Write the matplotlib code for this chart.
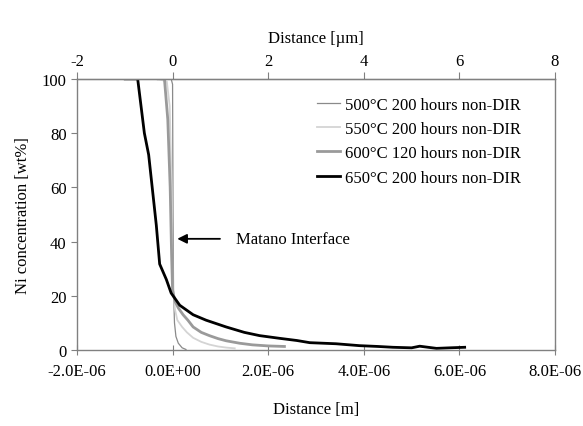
import matplotlib
matplotlib.use("Agg")
import matplotlib.pyplot as plt
from matplotlib.ticker import FuncFormatter

plt.rcParams['font.family'] = ['Liberation Serif', 'DejaVu Serif']
plt.rcParams['axes.unicode_minus'] = False

# distance in micrometres, Ni concentration in wt%
x_500 = [-0.1, -0.03, 0.0, 0.01, 0.02, 0.04, 0.07, 0.12, 0.2, 0.28]
y_500 = [100, 100, 98, 50, 22, 10, 5, 2.5, 0.8, 0.2]

x_550 = [-0.6, -0.3, -0.12, -0.06, -0.02, 0.0, 0.05, 0.1, 0.2, 0.3, 0.43, 0.6, 0.77, 0.95, 1.12, 1.3]
y_550 = [100, 100, 99, 90, 60, 25, 15, 11, 8.5, 6.5, 4.5, 3.0, 2.0, 1.3, 0.9, 0.6]

x_600 = [-0.3, -0.17, -0.1, -0.05, -0.02, 0.0, 0.05, 0.12, 0.22, 0.32, 0.43, 0.6, 0.77, 0.95, 1.12, 1.4, 1.67, 2.0, 2.34]
y_600 = [100, 100, 85, 60, 35, 22, 18, 15.5, 13, 11, 8.5, 6.5, 5.3, 4.2, 3.4, 2.5, 1.9, 1.5, 1.3]

x_650 = [-0.99, -0.73, -0.59, -0.5, -0.34, -0.27, -0.13, -0.03, 0.15, 0.43, 0.7, 1.12,
         1.5, 1.82, 2.24, 2.6, 2.87, 3.42, 3.91, 4.3, 4.61, 5.0, 5.17, 5.52, 5.8, 6.11]
y_650 = [100, 100, 80, 72, 46, 31.7, 26, 21, 16.5, 13, 11, 8.5,
         6.5, 5.3, 4.3, 3.5, 2.7, 2.3, 1.6, 1.3, 1.0, 0.8, 1.4, 0.6, 0.8, 1.0]

labels = ["500°C 200 hours non-DIR", "550°C 200 hours non-DIR",
          "600°C 120 hours non-DIR", "650°C 200 hours non-DIR"]

fig = plt.figure(figsize=(5.83, 4.27), dpi=100)
ax = fig.add_axes([0.132, 0.178, 0.820, 0.635])

um = 1e-6
ax.plot([v * um for v in x_500], y_500, color="#8a8a8a", lw=0.9, label=labels[0])
ax.plot([v * um for v in x_550], y_550, color="#d4d4d4", lw=1.3, label=labels[1])
ax.plot([v * um for v in x_600], y_600, color="#9a9a9a", lw=2.0, label=labels[2])
ax.plot([v * um for v in x_650], y_650, color="black", lw=2.0, label=labels[3])

ax.set_xlim(-2e-6, 8e-6)
ax.set_ylim(0, 100)
ax.set_xticks([-2e-6, 0, 2e-6, 4e-6, 6e-6, 8e-6])
ax.set_yticks([0, 20, 40, 60, 80, 100])
ax.xaxis.set_major_formatter(FuncFormatter(lambda v, p: f"{v:.1E}"))

for s in ax.spines.values():
    s.set_color("#808080")
    s.set_linewidth(1.0)
ax.tick_params(axis="x", direction="inout", length=7, color="#808080", labelsize=12, pad=6)
ax.tick_params(axis="y", direction="out", length=4, color="#808080", labelsize=12)

ax.set_xlabel("Distance [m]", fontsize=12, labelpad=16)
ax.set_ylabel("Ni concentration [wt%]", fontsize=12, labelpad=8)

top = ax.secondary_xaxis("top", functions=(lambda v: v / um, lambda v: v * um))
top.set_xticks([-2, 0, 2, 4, 6, 8])
top.tick_params(direction="out", length=5, color="#808080", labelsize=12, pad=2)
top.set_xlabel("Distance [µm]", fontsize=12, labelpad=8)

ax.annotate("", xy=(0.04 * um, 41), xytext=(1.05 * um, 41),
            arrowprops=dict(arrowstyle="-|>", color="black", lw=1.3, mutation_scale=14))
ax.text(1.32 * um, 41, "Matano Interface", fontsize=12, va="center", ha="left")

leg = ax.legend(loc="upper right", frameon=False, fontsize=12, handlelength=1.4,
                handletextpad=0.3, labelspacing=0.5, bbox_to_anchor=(0.96, 0.99))

fig.savefig("out.png", dpi=100)
